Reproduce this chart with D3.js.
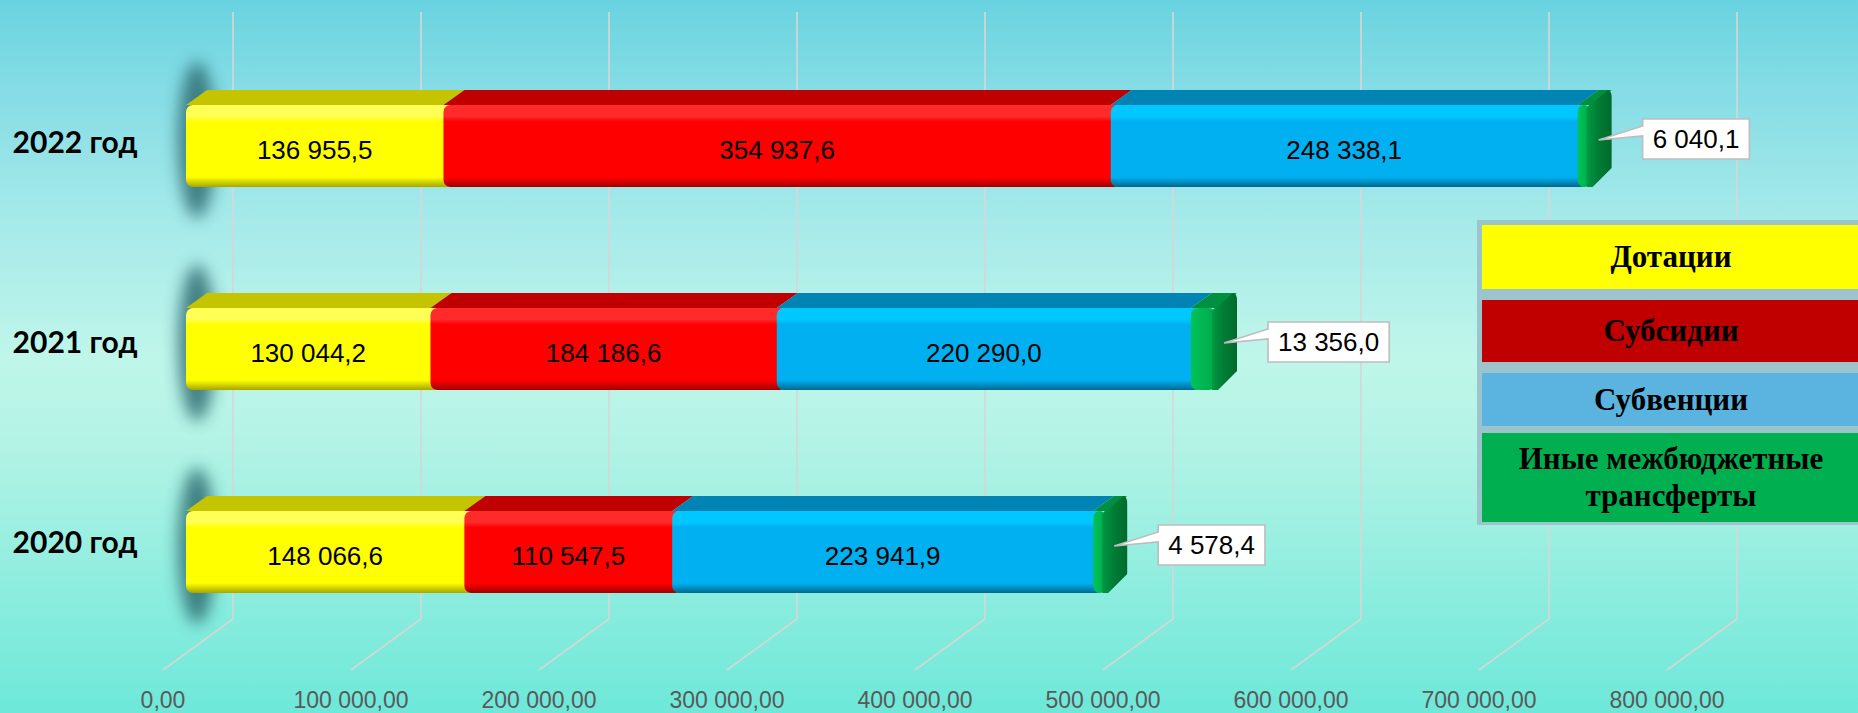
<!DOCTYPE html>
<html>
<head>
<meta charset="utf-8">
<script src="https://cdn.jsdelivr.net/npm/d3@7"></script>
<style>
  html, body { margin: 0; padding: 0; overflow: hidden; }
  svg { display: block; }
</style>
</head>
<body>
<svg id="chart" width="1858" height="713"></svg>
<script>
// data
var years = ['2022 год', '2021 год', '2020 год'];
var seriesNames = ['Дотации', 'Субсидии', 'Субвенции', 'Иные межбюджетные трансферты'];
var dotacii   = [136955.5, 130044.2, 148066.6];
var subsidii  = [354937.6, 184186.6, 110547.5];
var subvencii = [248338.1, 220290.0, 223941.9];
var inye      = [6040.1, 13356.0, 4578.4];
var tickValues = [0, 100000, 200000, 300000, 400000, 500000, 600000, 700000, 800000];

// colours: top face, legend
var topColors   = ['#c4c400', '#c00000', '#0084b4', '#00903f'];
var legendColors = ['#ffff00', '#c00000', '#5bb4e0', '#00b050'];

var W = 1858, H = 713;
var svg = d3.select('#chart');
var defs = svg.append('defs');

var ru = d3.formatLocale({ decimal: ',', thousands: '\u00a0', grouping: [3], currency: ['', ''] });
var fmtVal = ru.format(',.1f');
var fmtTick = ru.format(',.2f');

// background
var bg = defs.append('linearGradient').attr('id', 'bg').attr('x1', 0).attr('y1', 0).attr('x2', 0).attr('y2', 1);
[[0, '#69d3df'], [0.12, '#84dce5'], [0.3, '#a4e9e9'], [0.5, '#bff6ea'], [0.62, '#b3f3e5'], [1, '#6de8d9']]
  .forEach(function(s) { bg.append('stop').attr('offset', s[0]).attr('stop-color', s[1]); });
svg.append('rect').attr('width', W).attr('height', H).attr('fill', 'url(#bg)');

// front face gradients
var shade = [
  ['#ffff55', '#ffff00', '#ffff00', '#a6a600'],
  ['#ff2a2a', '#ff0000', '#ff0000', '#a00000'],
  ['#00c8ff', '#00b0f0', '#00b0f0', '#00698f']
];
shade.forEach(function(c, i) {
  var g = defs.append('linearGradient').attr('id', 'fg' + i).attr('x1', 0).attr('y1', 0).attr('x2', 0).attr('y2', 1);
  g.append('stop').attr('offset', 0).attr('stop-color', c[0]);
  g.append('stop').attr('offset', 0.14).attr('stop-color', c[0]);
  g.append('stop').attr('offset', 0.2).attr('stop-color', c[1]);
  g.append('stop').attr('offset', 0.88).attr('stop-color', c[2]);
  g.append('stop').attr('offset', 1).attr('stop-color', c[3]);
});
var capGrad = defs.append('linearGradient').attr('id', 'cap').attr('x1', 0).attr('y1', 0).attr('x2', 1).attr('y2', 0);
capGrad.append('stop').attr('offset', 0).attr('stop-color', '#00c45a');
capGrad.append('stop').attr('offset', 1).attr('stop-color', '#00a84a');
var sideGrad = defs.append('linearGradient').attr('id', 'side').attr('x1', 0).attr('y1', 0).attr('x2', 1).attr('y2', 0);
sideGrad.append('stop').attr('offset', 0).attr('stop-color', '#009a44');
sideGrad.append('stop').attr('offset', 0.45).attr('stop-color', '#007d35');
sideGrad.append('stop').attr('offset', 1).attr('stop-color', '#006a2c');

defs.append('filter').attr('id', 'blur').attr('x', '-100%').attr('y', '-50%').attr('width', '300%').attr('height', '200%')
  .append('feGaussianBlur').attr('stdDeviation', 8);

// scales
var x = d3.scaleLinear().domain([0, 800000]).range([186, 186 + 8 * 188]);
var y = d3.scaleBand().domain(years).range([44.5, 653.5]).paddingInner(0.596).paddingOuter(0.298);

var depth = { dx: 21, dy: -15 };      // bar top face offset
var back = { dx: 47, top: 12, bottom: 619 };   // back wall grid
var front = { dx: -23, bottom: 670 };           // floor front edge

// gridlines (back wall + floor)
var grid = svg.append('g').attr('stroke', '#d6d6d6').attr('stroke-width', 1.6).attr('fill', 'none');
grid.selectAll('path').data(tickValues).join('path')
  .attr('d', function(v) {
    return 'M' + (x(v) + back.dx) + ',' + back.top + 'V' + back.bottom +
           'L' + (x(v) + front.dx) + ',' + front.bottom;
  });

// axis labels
svg.append('g').selectAll('text').data(tickValues).join('text')
  .attr('x', function(v) { return x(v) + front.dx; })
  .attr('y', 708)
  .attr('text-anchor', 'middle')
  .attr('font-family', 'Liberation Sans, Arial, sans-serif')
  .attr('font-size', 23)
  .attr('fill', '#595959')
  .text(function(v) { return fmtTick(v); });

// stacked data
var rows = years.map(function(yr, i) {
  return { year: yr, s0: dotacii[i], s1: subsidii[i], s2: subvencii[i], s3: inye[i] };
});
var stack = d3.stack().keys(['s0', 's1', 's2', 's3'])(rows);

// shadows behind the bar starts
svg.append('g').selectAll('ellipse').data(years).join('ellipse')
  .attr('cx', x(0) + 11)
  .attr('cy', function(yr) { return y(yr) + y.bandwidth() / 2 - 6; })
  .attr('rx', 19)
  .attr('ry', 78)
  .attr('fill', '#2d6d72')
  .attr('opacity', 0.85)
  .attr('filter', 'url(#blur)');

var capMin = 13;
var bh = y.bandwidth();
var last = stack.length - 1;

years.forEach(function(yr, i) {
  var yT = y(yr), yB = yT + bh;
  var g = svg.append('g');
  stack.forEach(function(layer, k) {
    var d = layer[i];
    var x0 = x(d[0]);
    var x1 = k === last ? Math.max(x(d[1]), x0 + capMin) : x(d[1]);
    // top face
    g.append('path')
      .attr('d', 'M' + x0 + ',' + yT + 'L' + x1 + ',' + yT + 'L' + (x1 + depth.dx) + ',' + (yT + depth.dy) +
                 'L' + (x0 + depth.dx) + ',' + (yT + depth.dy) + 'Z')
      .attr('fill', topColors[k]);
    // front face
    g.append('rect')
      .attr('x', x0).attr('y', yT)
      .attr('width', x1 - x0 + (k < last ? 10 : 0))
      .attr('height', bh)
      .attr('rx', 7)
      .attr('fill', k === last ? 'url(#cap)' : 'url(#fg' + k + ')');
    if (k === last) {
      // right side face of the bar end
      g.append('path')
        .attr('d', 'M' + (x1 - 4) + ',' + (yT + 4) + 'Q' + (x1 - 3) + ',' + yT + ' ' + (x1 + 2) + ',' + (yT - 2) +
                   'L' + (x1 + depth.dx - 4) + ',' + (yT + depth.dy) +
                   'Q' + (x1 + depth.dx) + ',' + (yT + depth.dy) + ' ' + (x1 + depth.dx) + ',' + (yT + depth.dy + 8) +
                   'L' + (x1 + depth.dx) + ',' + (yB + depth.dy - 4) +
                   'L' + (x1 + 2) + ',' + yB + 'L' + (x1 - 4) + ',' + yB + 'Z')
        .attr('fill', 'url(#side)');
      // callout with value
      var cy = yT + bh / 2;
      var tip = [x1 + 8, cy - 6];
      var bx = x1 + 52, bTop = cy - 7 - 20, bHgt = 40;
      var co = svg.append('g');
      var path = co.append('path');
      var t = co.append('text')
        .attr('y', cy - 7)
        .attr('dy', '0.36em')
        .attr('font-family', 'Liberation Sans, Arial, sans-serif')
        .attr('font-size', 26)
        .attr('fill', '#000')
        .text(fmtVal(d[1] - d[0]));
      var tw = t.node().getComputedTextLength();
      var bw = tw + 20;
      t.attr('x', bx + bw / 2).attr('text-anchor', 'middle');
      path.attr('d', 'M' + bx + ',' + bTop + 'H' + (bx + bw) + 'V' + (bTop + bHgt) + 'H' + bx +
                     'V' + (bTop + 17) + 'L' + tip[0] + ',' + tip[1] + 'L' + bx + ',' + (bTop + 7) + 'Z')
        .attr('fill', '#fff').attr('stroke', '#bdbdbd').attr('stroke-width', 1.6);
    } else {
      g.append('text')
        .attr('x', (x0 + x1) / 2)
        .attr('y', yT + bh / 2 + 4)
        .attr('dy', '0.36em')
        .attr('text-anchor', 'middle')
        .attr('font-family', 'Liberation Sans, Arial, sans-serif')
        .attr('font-size', 26)
        .attr('fill', '#000')
        .text(fmtVal(d[1] - d[0]));
    }
  });
});

// category labels
svg.append('g').selectAll('text').data(years).join('text')
  .attr('x', 75)
  .attr('y', function(yr, i) { return y(yr) + bh / 2 - 4 - 3 * i; })
  .attr('dy', '0.36em')
  .attr('text-anchor', 'middle')
  .attr('font-family', 'Lato, Open Sans, sans-serif')
  .attr('font-weight', 'bold')
  .attr('font-size', 30)
  .attr('fill', '#000')
  .text(function(yr) { return yr; });

// legend
var legendBox = { x: 1477, y: 220, w: 400, h: 305 };
var legendItems = [
  { top: 225, h: 64, lines: ['Дотации'] },
  { top: 300, h: 62, lines: ['Субсидии'] },
  { top: 373, h: 53, lines: ['Субвенции'] },
  { top: 433, h: 89, lines: ['Иные межбюджетные', 'трансферты'] }
];
var lg = svg.append('g');
lg.append('rect').attr('x', legendBox.x).attr('y', legendBox.y).attr('width', legendBox.w).attr('height', legendBox.h)
  .attr('fill', '#9cc4cc');
legendItems.forEach(function(it, k) {
  lg.append('rect').attr('x', legendBox.x + 5).attr('y', it.top).attr('width', legendBox.w).attr('height', it.h)
    .attr('fill', legendColors[k]);
  var tx = lg.append('text')
    .attr('x', 1671)
    .attr('text-anchor', 'middle')
    .attr('font-family', 'Liberation Serif, Times New Roman, serif')
    .attr('font-weight', 'bold')
    .attr('font-size', 31)
    .attr('fill', '#000');
  var lh = 37;
  var y0 = it.top + it.h / 2 - (it.lines.length - 1) * lh / 2;
  it.lines.forEach(function(line, j) {
    tx.append('tspan').attr('x', 1671).attr('y', y0 + j * lh).attr('dy', '0.33em').text(line);
  });
});
lg.attr('data-series', seriesNames.join('|'));
</script>
</body>
</html>
